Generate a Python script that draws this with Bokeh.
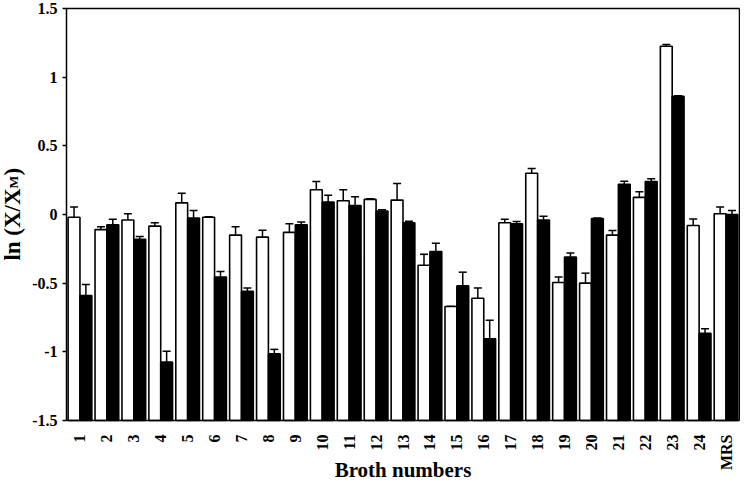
import math
import numpy as np
from bokeh.plotting import figure
from bokeh.models import (ColumnDataSource, Whisker, TeeHead, Range1d, FixedTicker,
                          PrintfTickFormatter, CustomJSTickFormatter, Label)
from bokeh.embed import file_html
from bokeh.resources import INLINE

cats = [str(i) for i in range(1, 25)] + ["MRS"]
white_vals = [-0.02, -0.11, -0.04, -0.085, 0.085, -0.02, -0.15, -0.165, -0.13, 0.18,
              0.10, 0.11, 0.105, -0.37, -0.67, -0.61, -0.06, 0.30, -0.495, -0.50,
              -0.15, 0.125, 1.225, -0.08, 0.005]
white_err = [0.075, 0.02, 0.045, 0.025, 0.07, 0.004, 0.06, 0.05, 0.063, 0.06,
             0.08, 0.004, 0.12, 0.08, 0.0, 0.075, 0.025, 0.035, 0.04, 0.073,
             0.033, 0.04, 0.012, 0.048, 0.05]
black_vals = [-0.59, -0.075, -0.18, -1.075, -0.025, -0.455, -0.56, -1.015, -0.075, 0.09,
              0.065, 0.025, -0.06, -0.27, -0.52, -0.905, -0.068, -0.04, -0.31, -0.03,
              0.22, 0.24, 0.86, -0.865, 0.0]
black_err = [0.08, 0.04, 0.02, 0.08, 0.055, 0.04, 0.025, 0.033, 0.02, 0.05,
             0.065, 0.01, 0.01, 0.06, 0.1, 0.135, 0.017, 0.028, 0.03, 0.004,
             0.023, 0.02, 0.004, 0.033, 0.03]
y_ticks = [-1.5, -1.0, -0.5, 0.0, 0.5, 1.0, 1.5]
y_min, y_max = -1.5, 1.5
x_title = "Broth numbers"
y_title_main, y_title_sub, y_title_end = "ln (X/X", "M", ")"

# ---- layout (pixels) ----
W, H = 740, 480
FL, FR, FT, FB = 66, 739, 8, 420          # plot box edges on the canvas
n = len(cats)
px_x = (FR - FL) / n
px_y = (FB - FT) / (y_max - y_min)
x_range = Range1d(-FL / px_x, n + (W - FR) / px_x)
y_range = Range1d(y_min - (H - FB) / px_y, y_max + FT / px_y)

FONT = "Liberation Serif"
BW = 0.44

idx = np.arange(n)
w = np.array(white_vals); we = np.array(white_err)
b = np.array(black_vals); be = np.array(black_err)
src = ColumnDataSource(dict(
    xw=idx + 0.5 - BW / 2, xb=idx + 0.5 + BW / 2,
    w=w, wl=w - we, wu=w + we,
    b=b, bl=b - be, bu=b + be,
))

p = figure(x_range=x_range, y_range=y_range, width=W, height=H,
           output_backend="svg", toolbar_location=None,
           min_border=0, min_border_left=0, min_border_right=0,
           min_border_top=0, min_border_bottom=0)
p.outline_line_color = None
p.xgrid.visible = False
p.ygrid.visible = False

p.vbar(x="xw", top="w", bottom=y_min, width=BW, source=src,
       fill_color="white", line_color="black", line_width=1.6)
p.vbar(x="xb", top="b", bottom=y_min, width=BW, source=src,
       fill_color="black", line_color="black", line_width=1.6)

for base, lo, hi in [("xw", "wl", "wu"), ("xb", "bl", "bu")]:
    p.add_layout(Whisker(source=src, base=base, lower=lo, upper=hi,
                         line_color="black", line_width=1.5,
                         lower_head=TeeHead(size=8, line_color="black", line_width=1.5),
                         upper_head=TeeHead(size=8, line_color="black", line_width=1.5)))

# top and right borders of the plot box
p.segment(x0=[0, n], y0=[y_max, y_min], x1=[n, n], y1=[y_max, y_max],
          line_color="black", line_width=1.5)

# y axis
ya = p.yaxis[0]
ya.fixed_location = 0
ya.bounds = (y_min, y_max)
ya.ticker = FixedTicker(ticks=y_ticks)
ya.formatter = PrintfTickFormatter(format="%g")
ya.minor_tick_line_color = None
ya.major_tick_in = 0
ya.major_tick_out = 4
ya.major_tick_line_width = 1.5
ya.axis_line_width = 1.5
ya.major_label_text_font = FONT
ya.major_label_text_font_style = "bold"
ya.major_label_text_font_size = "16px"
ya.major_label_text_color = "black"
ya.major_label_standoff = 5

# x axis
xa = p.xaxis[0]
xa.fixed_location = y_min
xa.bounds = (0, n)
xa.ticker = FixedTicker(ticks=list(idx + 0.5))
xa.formatter = CustomJSTickFormatter(args=dict(labels=cats),
                                     code="return labels[Math.round(tick - 0.5)] || '';")
xa.major_tick_line_color = None
xa.minor_tick_line_color = None
xa.axis_line_width = 1.5
xa.major_label_orientation = math.pi / 2
xa.major_label_text_font = FONT
xa.major_label_text_font_style = "bold"
xa.major_label_text_font_size = "16px"
xa.major_label_text_color = "black"
xa.major_label_standoff = 8

# x title
p.add_layout(Label(x=n / 2, y=11, x_units="data", y_units="screen", text=x_title,
                   text_align="center", text_baseline="alphabetic",
                   text_font=FONT, text_font_style="bold", text_font_size="21px",
                   text_color="black"))

# y title with subscript
y_end = 0.19
lx = 12
p.add_layout(Label(x=lx, y=y_end, x_units="screen", y_units="data", text=y_title_main,
                   angle=math.pi / 2, text_align="right", text_baseline="alphabetic",
                   text_font=FONT, text_font_style="bold", text_font_size="23px",
                   text_color="black"))
p.add_layout(Label(x=lx + 1, y=y_end, x_units="screen", y_units="data", text=y_title_sub,
                   angle=math.pi / 2, text_align="left", text_baseline="alphabetic",
                   text_font=FONT, text_font_style="bold", text_font_size="13.5px",
                   text_color="black"))
p.add_layout(Label(x=lx, y=y_end + 12.8 / px_y, x_units="screen", y_units="data",
                   text=y_title_end, angle=math.pi / 2, text_align="left",
                   text_baseline="alphabetic", text_font=FONT, text_font_style="bold",
                   text_font_size="23px", text_color="black"))

open("out.html", "w").write(file_html(p, INLINE))
